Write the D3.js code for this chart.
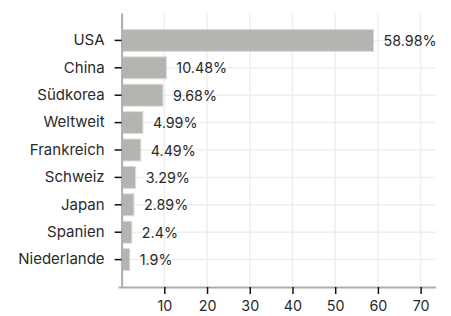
<!DOCTYPE html>
<html lang="de">
<head>
  <meta charset="UTF-8" />
  <title>Anteile</title>
  <style>
    body { margin: 0; background: #fff; }
    svg text { font-family: Inter, "Noto Sans", sans-serif; fill: #2a2a2a; }
  </style>
</head>
<body>
  <script src="https://d3js.org/d3.v7.min.js"></script>
  <script>
    // Daten
    const countries = ['USA', 'China', 'Südkorea', 'Weltweit', 'Frankreich', 'Schweiz', 'Japan', 'Spanien', 'Niederlande'];
    const shares = [58.98, 10.48, 9.68, 4.99, 4.49, 3.29, 2.89, 2.4, 1.9];
    const xTicks = [10, 20, 30, 40, 50, 60, 70];

    const width = 451, height = 316;
    const margin = { top: 13, right: 15, bottom: 29, left: 121.6 };
    const labelSize = '15px';
    const numberSize = '14.3px';

    const svg = d3.select('body').append('svg')
      .attr('width', width)
      .attr('height', height);

    const x = d3.scaleLinear()
      .domain([0, 73.6])
      .range([margin.left, width - margin.right]);

    const y = d3.scaleBand()
      .domain(countries)
      .range([margin.top, height - margin.bottom])
      .paddingInner(0.2)
      .paddingOuter(0.6);

    // Gitterlinien
    const grid = svg.append('g').attr('stroke', '#eeeeee').attr('stroke-width', 1.5);
    grid.selectAll('.vx')
      .data(xTicks)
      .enter().append('line')
      .attr('x1', d => x(d)).attr('x2', d => x(d))
      .attr('y1', margin.top).attr('y2', height - margin.bottom);
    grid.selectAll('.hy')
      .data(countries)
      .enter().append('line')
      .attr('x1', margin.left).attr('x2', width - margin.right)
      .attr('y1', d => y(d) + y.bandwidth() / 2)
      .attr('y2', d => y(d) + y.bandwidth() / 2);

    // Balken
    svg.append('g')
      .selectAll('rect')
      .data(countries)
      .enter().append('rect')
      .attr('x', x(0) + 1)
      .attr('y', d => y(d))
      .attr('width', (d, i) => x(shares[i]) - x(0) - 1)
      .attr('height', y.bandwidth())
      .attr('fill', '#b5b4b0')
      .attr('stroke', '#dcdbd7')
      .attr('stroke-width', 1);

    // Werte
    svg.append('g')
      .selectAll('text')
      .data(countries)
      .enter().append('text')
      .attr('x', (d, i) => x(shares[i]) + 10)
      .attr('y', d => y(d) + y.bandwidth() / 2)
      .attr('dominant-baseline', 'central')
      .attr('font-size', numberSize)
      .text((d, i) => shares[i] + '%');

    // Achsen
    const xAxis = svg.append('g')
      .attr('transform', `translate(0,${height - margin.bottom})`)
      .call(d3.axisBottom(x).tickValues(xTicks).tickSize(7).tickSizeOuter(0).tickPadding(7));
    xAxis.select('.domain')
      .attr('d', `M${margin.left - 3},0.5H${width - margin.right}`)
      .attr('stroke', '#aeada8').attr('stroke-width', 2);
    xAxis.selectAll('.tick line').attr('stroke', '#111').attr('stroke-width', 1.5);
    xAxis.selectAll('text').attr('font-size', numberSize).attr('font-family', null).attr('fill', null);

    const yAxis = svg.append('g')
      .attr('transform', `translate(${margin.left},0)`)
      .call(d3.axisLeft(y).tickSize(7).tickSizeOuter(0).tickPadding(10));
    yAxis.select('.domain').attr('stroke', '#aeada8').attr('stroke-width', 2);
    yAxis.selectAll('.tick line').attr('stroke', '#111').attr('stroke-width', 1.5);
    yAxis.selectAll('text').attr('font-size', labelSize).attr('font-family', null).attr('fill', null);
  </script>
</body>
</html>
